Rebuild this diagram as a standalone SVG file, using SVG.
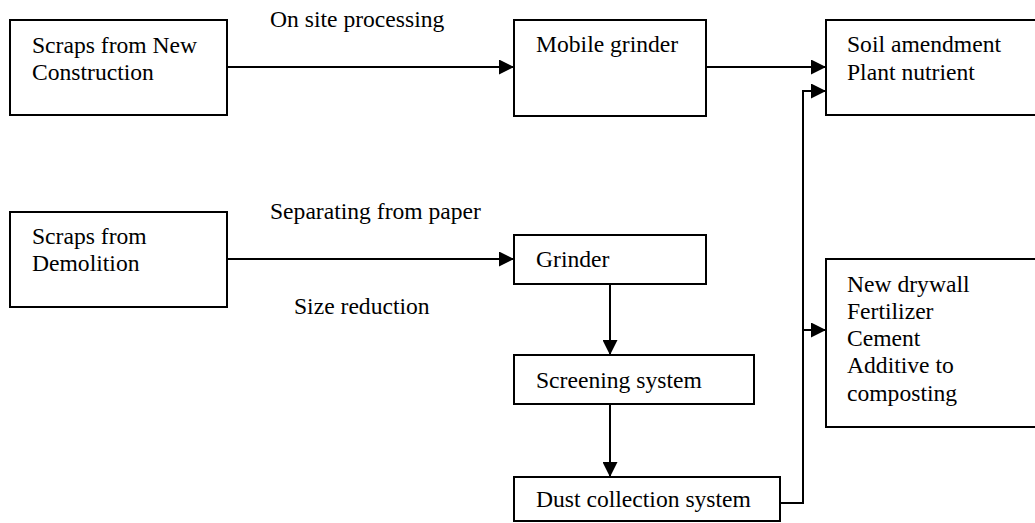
<svg xmlns="http://www.w3.org/2000/svg" width="1035" height="523" viewBox="0 0 1035 523">
  <style>
    .box { fill: #fff; stroke: #000; stroke-width: 2; }
    .lbl { font-family: "Liberation Serif", "Times New Roman", serif; font-size: 23.6px; fill: #000; }
    .wire { fill: none; stroke: #000; stroke-width: 2; }
  </style>
  <defs>
    <marker id="arrow" markerUnits="userSpaceOnUse" markerWidth="15" markerHeight="15" refX="15" refY="7.5" orient="auto">
      <path d="M0,0 L15,7.5 L0,15 Z" fill="#000"/>
    </marker>
  </defs>
  <rect width="1035" height="523" fill="#fff"/>

  <!-- Edge labels -->
  <g id="edge-labels">
    <text class="lbl" x="270" y="27">On site processing</text>
    <text class="lbl" x="270" y="219">Separating from paper</text>
    <text class="lbl" x="294" y="314">Size reduction</text>
  </g>

  <g id="new-construction">
    <rect class="box" x="10" y="20" width="217" height="95"/>
    <text class="lbl" x="32" y="53">Scraps from New</text>
    <text class="lbl" x="32" y="80">Construction</text>
  </g>

  <g id="mobile-grinder">
    <rect class="box" x="514" y="20" width="192" height="96"/>
    <text class="lbl" x="536" y="52">Mobile grinder</text>
  </g>

  <g id="soil-products">
    <rect class="box" x="826" y="20" width="220" height="95"/>
    <text class="lbl" x="847" y="52">Soil amendment</text>
    <text class="lbl" x="847" y="80">Plant nutrient</text>
  </g>

  <g id="demolition">
    <rect class="box" x="10" y="212" width="217" height="95"/>
    <text class="lbl" x="32" y="244">Scraps from</text>
    <text class="lbl" x="32" y="271">Demolition</text>
  </g>

  <g id="grinder">
    <rect class="box" x="514" y="235" width="192" height="49"/>
    <text class="lbl" x="536" y="267">Grinder</text>
  </g>

  <g id="screening">
    <rect class="box" x="514" y="355" width="240" height="49"/>
    <text class="lbl" x="536" y="388">Screening system</text>
  </g>

  <g id="dust-collection">
    <rect class="box" x="514" y="477" width="266" height="44"/>
    <text class="lbl" x="536" y="507">Dust collection system</text>
  </g>

  <g id="other-products">
    <rect class="box" x="826" y="259" width="220" height="168"/>
    <text class="lbl" x="847" y="292">New drywall</text>
    <text class="lbl" x="847" y="319">Fertilizer</text>
    <text class="lbl" x="847" y="346">Cement</text>
    <text class="lbl" x="847" y="373">Additive to</text>
    <text class="lbl" x="847" y="401">composting</text>
  </g>

  <!-- Connectors -->
  <g id="connectors">
    <line class="wire" x1="227" y1="67" x2="514" y2="67" marker-end="url(#arrow)"/>
    <line class="wire" x1="706" y1="67" x2="826" y2="67" marker-end="url(#arrow)"/>
    <line class="wire" x1="227" y1="259" x2="514" y2="259" marker-end="url(#arrow)"/>
    <line class="wire" x1="610" y1="284" x2="610" y2="355" marker-end="url(#arrow)"/>
    <line class="wire" x1="610" y1="404" x2="610" y2="477" marker-end="url(#arrow)"/>
    <polyline class="wire" points="780,503 803,503 803,91 826,91" marker-end="url(#arrow)"/>
    <line class="wire" x1="803" y1="330" x2="826" y2="330" marker-end="url(#arrow)"/>
  </g>
</svg>
